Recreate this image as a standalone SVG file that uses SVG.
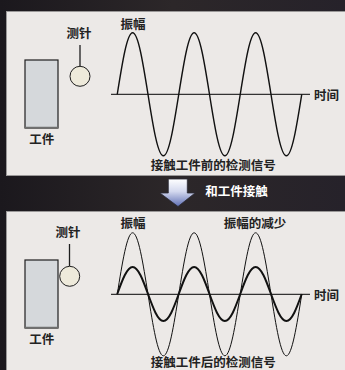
<svg xmlns="http://www.w3.org/2000/svg" width="345" height="370" viewBox="0 0 345 370">
<defs>
<linearGradient id="bg" x1="0" y1="0" x2="1" y2="0">
<stop offset="0" stop-color="#1b181d"/>
<stop offset="0.5" stop-color="#2c2729"/>
<stop offset="1" stop-color="#26222a"/>
</linearGradient>
<linearGradient id="arrowGrad" x1="0" y1="0" x2="0" y2="1">
<stop offset="0" stop-color="#ffffff"/>
<stop offset="0.45" stop-color="#d4d9ef"/>
<stop offset="1" stop-color="#5f6fb4"/>
</linearGradient>
<path id="bigWave" d="M117.25,0 c5.014,-31.51 9.811,-61.5 15.375,-61.5 c5.564,0 10.361,29.99 15.375,61.5 c5.014,31.51 9.811,61.5 15.375,61.5 c5.564,0 10.361,-29.99 15.375,-61.5 c5.014,-31.51 9.811,-61.5 15.375,-61.5 c5.564,0 10.361,29.99 15.375,61.5 c5.014,31.51 9.811,61.5 15.375,61.5 c5.564,0 10.361,-29.99 15.375,-61.5 c5.014,-31.51 9.811,-61.5 15.375,-61.5 c5.564,0 10.361,29.99 15.375,61.5 c5.014,31.51 9.811,61.5 15.375,61.5 c5.564,0 10.361,-29.99 15.375,-61.5"/>
<path id="smallWave" d="M117.25,0 c5.014,-13.83 9.811,-27 15.375,-27 c5.564,0 10.361,13.17 15.375,27 c5.014,13.83 9.811,27 15.375,27 c5.564,0 10.361,-13.17 15.375,-27 c5.014,-13.83 9.811,-27 15.375,-27 c5.564,0 10.361,13.17 15.375,27 c5.014,13.83 9.811,27 15.375,27 c5.564,0 10.361,-13.17 15.375,-27 c5.014,-13.83 9.811,-27 15.375,-27 c5.564,0 10.361,13.17 15.375,27 c5.014,13.83 9.811,27 15.375,27 c5.564,0 10.361,-13.17 15.375,-27"/>
</defs>
<style>
.panel{fill:#ece9e7;stroke:#9a9898;stroke-width:1}
.work{fill:#d5d8db;stroke:#1e1e1e;stroke-width:1.2}
.probe{fill:#eeeadb;stroke:#1e1e1e;stroke-width:1}
.stem{stroke:#1e1e1e;stroke-width:1.3}
.axis{stroke:#333;stroke-width:1.3}
.wave{fill:none;stroke:#111;stroke-width:1.4}
.thin{fill:none;stroke:#111;stroke-width:1}
.thick{fill:none;stroke:#111;stroke-width:2}
text{font-family:"Noto Sans CJK SC","Noto Sans",sans-serif;font-weight:bold;font-size:12.5px;fill:#222;text-anchor:middle}
.white{fill:#ffffff}
</style>
<rect x="0" y="0" width="345" height="370" fill="url(#bg)"/>
<g id="panel-before">
<rect class="panel" x="6.5" y="11.5" width="340" height="164"/>
</g>
<g id="panel-after">
<rect class="panel" x="6.5" y="211.5" width="340" height="160"/>
</g>
<g id="workpiece-before">
<rect class="work" x="25" y="60" width="33" height="68"/>
<line x1="25" y1="127.5" x2="58" y2="127.5" stroke="#6f6f6f" stroke-width="1.5"/>
<text x="41.7" y="143.5">工件</text>
</g>
<g id="probe-before">
<line class="stem" x1="80" y1="45" x2="80" y2="66"/>
<circle class="probe" cx="80" cy="76.3" r="10"/>
<text x="79" y="38">测针</text>
</g>
<g id="signal-before">
<line class="axis" x1="111" y1="94.3" x2="310" y2="94.3"/>
<use href="#bigWave" class="wave" transform="translate(0,94.3)"/>
<text x="133" y="29">振幅</text>
<text x="326.5" y="100">时间</text>
<text x="213.3" y="170">接触工件前的检测信号</text>
</g>
<g id="transition">
<polygon points="168.3,179 187.3,179 187.3,193 195,193 178,206.5 160,193 168.3,193" fill="url(#arrowGrad)" stroke="#2a2a35" stroke-width="0.8"/>
<text class="white" x="236.5" y="195.5">和工件接触</text>
</g>
<g id="workpiece-after">
<rect class="work" x="25" y="260" width="33" height="68"/>
<line x1="25" y1="327.5" x2="58" y2="327.5" stroke="#6f6f6f" stroke-width="1.5"/>
<text x="41.7" y="343.5">工件</text>
</g>
<g id="probe-after">
<line class="stem" x1="69.5" y1="244" x2="69.5" y2="266"/>
<circle class="probe" cx="69.7" cy="276.3" r="10"/>
<text x="68" y="237">测针</text>
</g>
<g id="signal-after">
<line class="axis" x1="111" y1="294.3" x2="310" y2="294.3"/>
<use href="#bigWave" class="thin" transform="translate(0,294.3)"/>
<use href="#smallWave" class="thick" transform="translate(0,294)"/>
<text x="133" y="227.5">振幅</text>
<text x="255" y="227.5">振幅的减少</text>
<text x="326.5" y="300">时间</text>
<text x="213.3" y="366.5">接触工件后的检测信号</text>
</g>
</svg>
